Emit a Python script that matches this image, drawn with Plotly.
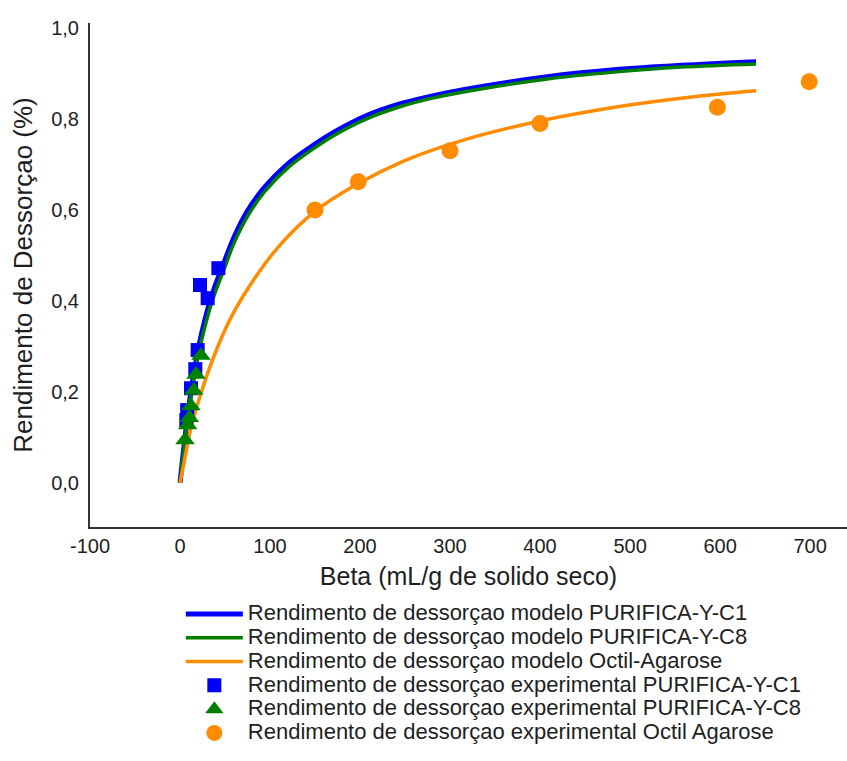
import plotly.graph_objects as go

# Model curves
c1_model_x = [0, 5, 10, 15, 23, 35, 49, 60, 75, 94, 120, 150, 172, 208, 246, 283, 334, 408, 482, 557, 640]
c1_model_y = [0, 0.09, 0.17, 0.235, 0.32, 0.41, 0.485, 0.54, 0.598, 0.65, 0.702, 0.745, 0.772, 0.808,
              0.834, 0.852, 0.871, 0.893, 0.908, 0.918, 0.926]

c8_model_x = [0, 5, 10, 15, 23, 35, 49, 60, 75, 94, 120, 150, 172, 208, 246, 283, 334, 408, 482, 557, 640]
c8_model_y = [0, 0.085, 0.16, 0.225, 0.305, 0.395, 0.47, 0.527, 0.586, 0.64, 0.693, 0.737, 0.765, 0.801,
              0.828, 0.847, 0.866, 0.888, 0.903, 0.914, 0.921]

oa_model_x = [0, 5, 12, 23, 38, 57, 83, 112, 150, 197, 249, 312, 401, 497, 571, 640]
oa_model_y = [0, 0.05, 0.12, 0.195, 0.28, 0.365, 0.45, 0.525, 0.597, 0.657, 0.708, 0.752, 0.796, 0.83,
              0.849, 0.862]

# Experimental points
c1_exp_x = [42.6, 22.2, 30.7, 19.6, 17.0, 12.2, 8.0, 7.0]
c1_exp_y = [0.472, 0.435, 0.406, 0.292, 0.250, 0.208, 0.160, 0.138]

c8_exp_x = [23.3, 17.8, 15.2, 12.2, 10.4, 8.5, 5.6]
c8_exp_y = [0.280, 0.238, 0.203, 0.169, 0.143, 0.127, 0.094]

oa_exp_x = [150, 198, 300, 400, 597, 699]
oa_exp_y = [0.600, 0.662, 0.730, 0.790, 0.826, 0.882]

x_tickvals = [-100, 0, 100, 200, 300, 400, 500, 600, 700]
x_ticktext = ["-100", "0", "100", "200", "300", "400", "500", "600", "700"]
y_tickvals = [0.0, 0.2, 0.4, 0.6, 0.8, 1.0]
y_ticktext = ["0,0", "0,2", "0,4", "0,6", "0,8", "1,0"]

names = [
    "Rendimento de dessorçao modelo PURIFICA-Y-C1",
    "Rendimento de dessorçao modelo PURIFICA-Y-C8",
    "Rendimento de dessorçao modelo Octil-Agarose",
    "Rendimento de dessorçao experimental PURIFICA-Y-C1",
    "Rendimento de dessorçao experimental PURIFICA-Y-C8",
    "Rendimento de dessorçao experimental Octil Agarose",
]

BLUE = "#0000FF"
GREEN = "#008000"
ORANGE = "#FF8C00"
FONT = "Liberation Sans, Arial, sans-serif"
TXT = "#1e1e1e"


def leg(n):
    return '<span style="font-size:22px">' + n + '</span>'


fig = go.Figure()
fig.add_trace(go.Scatter(x=c1_model_x, y=c1_model_y, mode="lines", line=dict(color=BLUE, width=5, shape="spline"),
                         name=leg(names[0])))
fig.add_trace(go.Scatter(x=c8_model_x, y=c8_model_y, mode="lines", line=dict(color=GREEN, width=3.5, shape="spline"),
                         name=leg(names[1])))
fig.add_trace(go.Scatter(x=oa_model_x, y=oa_model_y, mode="lines", line=dict(color=ORANGE, width=3.5, shape="spline"),
                         name=leg(names[2])))
fig.add_trace(go.Scatter(x=c1_exp_x, y=c1_exp_y, mode="markers",
                         marker=dict(symbol="square", size=14, color=BLUE),
                         name=leg(names[3])))
fig.add_trace(go.Scatter(x=c8_exp_x, y=c8_exp_y, mode="markers",
                         marker=dict(symbol="triangle-up", size=17, color=GREEN),
                         name=leg(names[4])))
fig.add_trace(go.Scatter(x=oa_exp_x, y=oa_exp_y, mode="markers",
                         marker=dict(symbol="circle", size=17, color=ORANGE),
                         name=leg(names[5])))

fig.update_layout(
    width=847, height=761,
    margin=dict(l=90, r=0, t=23, b=234),
    paper_bgcolor="white", plot_bgcolor="white",
    font=dict(family=FONT, size=16, color=TXT),
    showlegend=True,
    legend=dict(x=0.12, y=-0.139, xanchor="left", yanchor="top",
                font=dict(family=FONT, size=16, color=TXT),
                itemwidth=57, tracegroupgap=0, bgcolor="rgba(0,0,0,0)"),
    xaxis=dict(range=[-100, 741], tickvals=x_tickvals, ticktext=x_ticktext,
               showgrid=False, zeroline=False, showline=True, linecolor="#333", linewidth=2,
               ticks="", tickfont=dict(size=20, color=TXT),
               title=dict(text="Beta (mL/g de solido seco)", font=dict(size=25, color=TXT), standoff=11)),
    yaxis=dict(range=[-0.097, 1.011], tickvals=y_tickvals, ticktext=y_ticktext,
               showgrid=False, zeroline=False, showline=True, linecolor="#333", linewidth=2,
               ticks="", tickfont=dict(size=20, color=TXT), ticklabelstandoff=5,
               title=dict(text="Rendimento de Dessorçao (%)", font=dict(size=26, color=TXT), standoff=11)),
)

fig.write_html("out.html")
